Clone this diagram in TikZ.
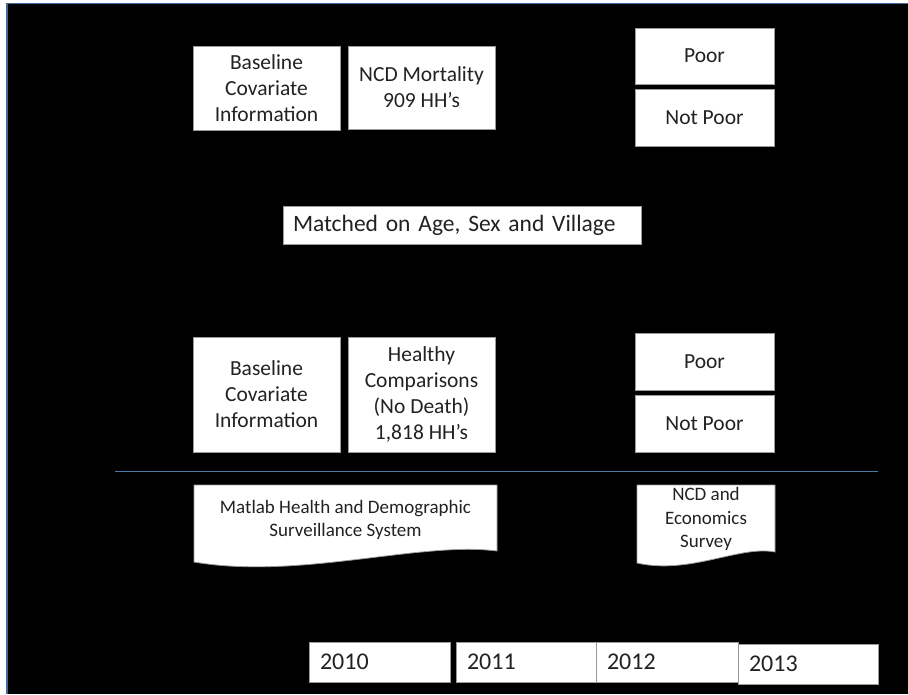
\documentclass[tikz,border=0pt]{standalone}
\usepackage{fontspec}
\setmainfont{Carlito}
\definecolor{txt}{HTML}{222222}
\definecolor{boxgray}{HTML}{9A9A9A}
\definecolor{frameblue}{HTML}{41699A}
\definecolor{sepblue}{HTML}{4A78A8}
\begin{document}
\begin{tikzpicture}[x=1pt,y=-1pt,
  box/.style={draw=boxgray, line width=0.8pt, fill=white, text=txt, inner sep=0pt, align=center, font=\fontsize{21.5}{26}\selectfont},
  leftbox/.style={box, align=left, inner xsep=11pt},
  yearbox/.style={leftbox, font=\fontsize{24}{28}\selectfont},
  doc/.style={draw=boxgray, line width=0.8pt, fill=white},
  doctext/.style={text=txt, align=center, inner sep=0pt, font=\fontsize{19}{22.5}\selectfont}]
\useasboundingbox (0,0) rectangle (908,694);
\fill[white] (0,0) rectangle (908,694);
\fill[black] (7,3.5) rectangle (908,694);
\draw[frameblue, line width=1.2pt] (7,694) -- (7,3.5) -- (908,3.5);

% top row
\node[box, minimum width=147pt, minimum height=84pt] (base1) at (266.5,88) {Baseline\\Covariate\\Information};
\node[box, minimum width=147pt, minimum height=83pt] (ncd) at (421.5,87.5) {NCD Mortality\\909 HH’s};
\node[box, minimum width=139pt, minimum height=56pt] (poor1) at (704.5,56) {Poor};
\node[box, minimum width=139pt, minimum height=57pt] (notpoor1) at (704.5,117.5) {Not Poor};

% matched
\node[leftbox, inner xsep=10pt, text width=338pt, minimum height=38pt, font=\fontsize{23.5}{28}\selectfont] (matched) at (462,225) {Matched on Age, Sex and Village};

% bottom row
\node[box, minimum width=147pt, minimum height=115pt] (base2) at (266.5,394.5) {Baseline\\Covariate\\Information};
\node[box, minimum width=147pt, minimum height=115pt] (healthy) at (421.5,394.5) {Healthy\\Comparisons\\(No Death)\\1,818 HH’s};
\node[box, minimum width=139pt, minimum height=57pt] (poor2) at (704.5,361.5) {Poor};
\node[box, minimum width=139pt, minimum height=57pt] (notpoor2) at (704.5,423.5) {Not Poor};

% separator
\coordinate (sepL) at (115,471);
\coordinate (sepR) at (878,471);
\draw[sepblue, line width=0.8pt] (sepL) -- (sepR);

% documents
\draw[doc] (194,485) -- (497,485) -- (497,551) .. controls (420,541) and (300,580) .. (194,562) -- cycle;
\node[doctext] (matlab) at (345.5,520) {Matlab Health and Demographic\\Surveillance System};
\draw[doc] (637,485) -- (775,485) -- (775,552) .. controls (740,545) and (690,575) .. (637,563) -- cycle;
\node[doctext, font=\fontsize{19}{23.5}\selectfont] (survey) at (706,519) {NCD and\\Economics\\Survey};

% years
\node[yearbox, text width=119pt, minimum height=40pt] (y2010) at (379.5,662) {2010};
\node[yearbox, text width=118pt, minimum height=40pt] (y2011) at (526,662) {2011};
\node[yearbox, text width=120pt, minimum height=40pt] (y2012) at (667,662) {2012};
\node[yearbox, text width=118pt, minimum height=40pt] (y2013) at (808,664) {2013};
\end{tikzpicture}
\end{document}
